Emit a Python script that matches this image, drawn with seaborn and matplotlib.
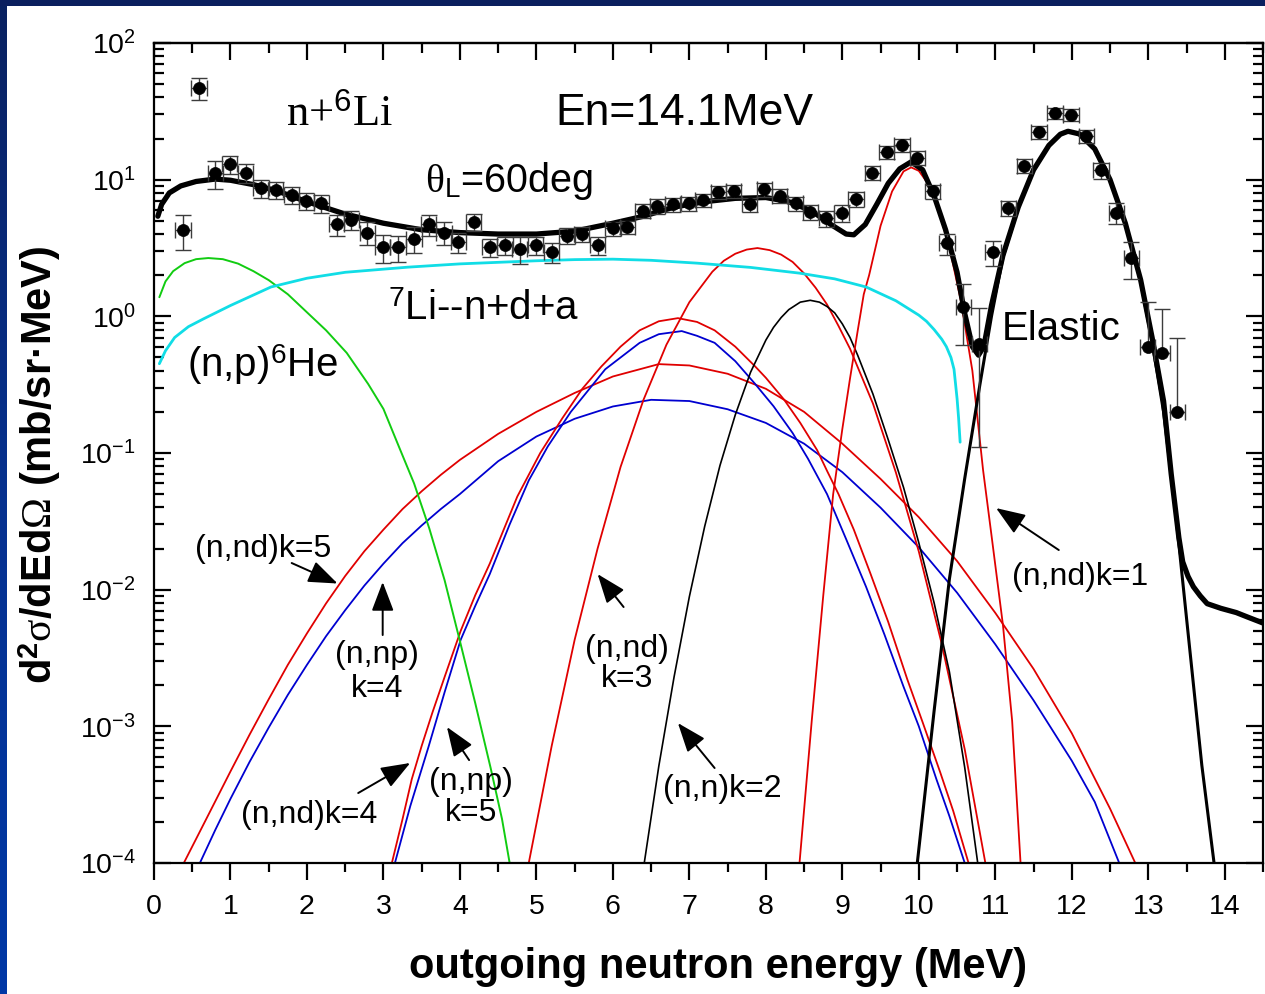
import numpy as np
import pandas as pd
import matplotlib
matplotlib.use("Agg")
import matplotlib.pyplot as plt
from matplotlib.ticker import MultipleLocator, LogLocator, NullFormatter, FixedLocator
from matplotlib.colors import LinearSegmentedColormap
from matplotlib.patches import Rectangle
import seaborn as sns

# ---------------------------------------------------------------- data
# measured double-differential cross section, n + 6Li, En = 14.1 MeV, 60 deg
exp_energy = [0.38, 0.59, 0.80, 0.99, 1.20, 1.40, 1.59, 1.80, 1.99, 2.19,
              2.39, 2.58, 2.79, 2.99, 3.19, 3.40, 3.59, 3.79, 3.98, 4.18,
              4.39, 4.59, 4.78, 4.99, 5.20, 5.40, 5.59, 5.80, 6.00, 6.19,
              6.39, 6.58, 6.78, 6.99, 7.18, 7.38, 7.58, 7.79, 7.98, 8.18,
              8.39, 8.58, 8.79, 8.99, 9.18, 9.39, 9.58, 9.78, 9.98, 10.18,
              10.37, 10.58, 10.79, 10.97, 11.17, 11.38, 11.57, 11.78, 11.99, 12.19,
              12.38, 12.58, 12.78, 12.99, 13.18, 13.38]
exp_value = [4.27, 46.5, 11.2, 13.0, 11.2, 8.7, 8.4, 7.7, 7.0, 6.7,
             4.7, 5.1, 4.1, 3.2, 3.2, 3.7, 4.7, 4.1, 3.5, 4.9,
             3.2, 3.3, 3.1, 3.3, 2.95, 3.9, 4.0, 3.3, 4.4, 4.5,
             5.9, 6.4, 6.6, 6.7, 7.1, 8.1, 8.3, 6.6, 8.5, 7.6,
             6.7, 5.8, 5.2, 5.7, 7.2, 11.2, 15.9, 17.9, 14.4, 8.2,
             3.43, 1.17, 0.63, 2.95, 6.2, 12.6, 22.2, 30.6, 29.8, 20.8,
             11.7, 5.7, 2.67, 0.60, 0.54, 0.20]
exp_error = [1.2, 8.5, 2.6, 2.0, 1.8, 1.3, 1.2, 1.1, 1.0, 1.0,
             0.8, 0.8, 0.8, 0.75, 0.7, 0.8, 0.8, 0.8, 0.6, 0.7,
             0.5, 0.5, 0.7, 0.5, 0.5, 0.5, 0.5, 0.5, 0.5, 0.5,
             0.7, 0.8, 0.8, 0.8, 0.8, 0.9, 0.9, 0.8, 1.0, 0.9,
             0.8, 0.7, 0.7, 0.8, 0.9, 1.3, 1.8, 2.0, 1.7, 1.0,
             0.6, 0.55, 0.52, 0.6, 0.8, 1.5, 2.5, 3.0, 3.0, 2.3,
             1.6, 1.0, 0.8, 0.67, 0.59, 0.50]
exp_energy_halfwidth = 0.1

# calculated spectra
total_E = [0.05, 0.1, 0.2, 0.35, 0.55, 0.8, 1.0, 1.3, 1.6, 2.0, 2.5, 3.0, 3.5,
           4.0, 4.5, 5.0, 5.5, 6.0, 6.4, 6.8, 7.2, 7.6, 8.0, 8.3, 8.6, 8.85,
           9.05, 9.15, 9.3, 9.45, 9.6, 9.75, 9.9, 10.05, 10.2, 10.35, 10.5,
           10.6, 10.7, 10.78, 10.85, 10.95, 11.1, 11.3, 11.5, 11.7, 11.85,
           11.95, 12.1, 12.3, 12.5, 12.7, 12.9, 13.05, 13.2, 13.3, 13.4, 13.45,
           13.52, 13.59, 13.68, 13.77, 13.95, 14.15, 14.3, 14.5]
total_v = [5.4, 6.6, 8.0, 9.0, 9.7, 10.1, 9.9, 9.2, 8.3, 6.9, 5.6, 4.8, 4.3,
           4.1, 4.0, 4.0, 4.2, 4.8, 5.4, 6.3, 6.9, 7.3, 7.4, 6.9, 5.9, 4.7,
           4.0, 3.95, 4.7, 6.6, 9.4, 12.0, 13.5, 11.8, 7.6, 4.3, 2.1,
           1.05, 0.6, 0.52, 0.6, 1.2, 2.8, 6.3, 11.8, 17.8, 21.5,
           22.6, 21.6, 16.8, 10.0, 4.8, 1.85, 0.7, 0.24, 0.07, 0.024, 0.016,
           0.0125, 0.0105, 0.0090, 0.0079, 0.0073, 0.0068, 0.0063, 0.0057]

elastic_E = [9.98, 10.2, 10.4, 10.6, 10.8, 10.95, 11.1, 11.3, 11.5, 11.7, 11.85,
             11.95, 12.1, 12.3, 12.5, 12.7, 12.9, 13.05, 13.2, 13.35, 13.5,
             13.7, 13.86]
elastic_v = [1.0e-4, 1.3e-3, 1.2e-2, 6.5e-2, 0.32, 1.0, 2.7, 6.2, 11.7, 17.7,
             21.4, 22.5, 21.5, 16.7, 9.9, 4.75, 1.8, 0.65, 0.2, 0.04, 6.2e-3,
             5.2e-4, 1.0e-4]

nd_k1_E = [8.44, 8.6, 8.75, 8.88, 9.0, 9.1, 9.2, 9.28, 9.35, 9.5, 9.65, 9.8,
           9.9, 10.0, 10.1, 10.25, 10.4, 10.55, 10.7, 10.84, 10.95, 11.1,
           11.22, 11.33]
nd_k1_v = [1e-4, 1.1e-3, 9e-3, 5e-2, 0.15, 0.35, 0.78, 1.45, 2.0, 4.6, 8.2,
           11.5, 12.3, 11.6, 9.7, 6.2, 3.2, 1.3, 0.4, 0.075, 0.025, 5.5e-3,
           1.1e-3, 1e-4]

nn_k2_E = [6.41, 6.6, 6.8, 7.0, 7.2, 7.4, 7.6, 7.8, 8.0, 8.1, 8.2, 8.3, 8.45,
           8.58, 8.7, 8.8, 8.9, 9.0, 9.1, 9.2, 9.4, 9.6, 9.8, 10.0, 10.2,
           10.4, 10.6, 10.77]
nn_k2_v = [1e-4, 5.1e-4, 2.3e-3, 8.9e-3, 0.029, 0.081, 0.19, 0.39, 0.67, 0.83,
           0.98, 1.12, 1.27, 1.31, 1.27, 1.18, 1.06, 0.88, 0.7, 0.52, 0.27,
           0.125, 0.056, 0.022, 8e-3, 2.5e-3, 5e-4, 1e-4]

nd_k3_E = [4.9, 5.2, 5.5, 5.8, 6.1, 6.4, 6.7, 7.0, 7.3, 7.45, 7.6, 7.75, 7.89,
           8.05, 8.2, 8.35, 8.5, 8.65, 8.8, 8.95, 9.1, 9.4, 9.7, 10.0, 10.3,
           10.6, 10.87]
nd_k3_v = [1e-4, 7.2e-4, 4.3e-3, 0.02, 0.079, 0.245, 0.62, 1.27, 2.12, 2.55,
           2.87, 3.08, 3.16, 3.05, 2.83, 2.5, 2.06, 1.62, 1.22, 0.85, 0.58,
           0.23, 0.072, 0.019, 4e-3, 6.8e-4, 1e-4]

nd_k4_E = [3.11, 3.25, 3.37, 3.5, 3.64, 3.8, 4.01, 4.2, 4.39, 4.6, 4.75, 5.05,
           5.34, 5.6, 5.85, 6.1, 6.35, 6.6, 6.85, 7.1, 7.33, 7.6, 7.86, 8.0,
           8.24, 8.45, 8.67, 8.8, 8.95, 9.15, 9.37, 9.6, 9.85, 10.05, 10.28,
           10.45, 10.65]
nd_k4_v = [1e-4, 2.1e-4, 4.1e-4, 7.2e-4, 1.26e-3, 2.3e-3, 5e-3, 9.1e-3,
           1.55e-2, 3.0e-2, 4.8e-2, 0.1, 0.18, 0.295, 0.43, 0.6, 0.79, 0.92,
           0.97, 0.91, 0.79, 0.6, 0.43, 0.355, 0.245, 0.166, 0.105, 0.074,
           0.05, 0.0275, 1.3e-2, 5.8e-3, 2.2e-3, 1.07e-3, 4.6e-4, 2.4e-4, 1e-4]

np_k5_E = [3.15, 3.35, 3.59, 3.8, 4.01, 4.2, 4.39, 4.65, 4.9, 5.15, 5.45,
           5.9, 6.35, 6.6, 6.9, 7.1, 7.33, 7.6, 7.86, 8.1, 8.35, 8.55, 8.8,
           9.05, 9.31, 9.55, 9.8, 10.0, 10.23, 10.4, 10.6]
np_k5_v = [1e-4, 2.6e-4, 7.1e-4, 1.78e-3, 4.3e-3, 7.6e-3, 1.3e-2, 3.0e-2,
           6.3e-2, 0.112, 0.2, 0.41, 0.64, 0.74, 0.78, 0.72, 0.64, 0.47,
           0.32, 0.22, 0.14, 0.091, 0.05, 0.0234, 1.05e-2, 4.7e-3, 1.95e-3,
           1e-3, 4.1e-4, 2.2e-4, 1e-4]

nd_k5_E = [0.39, 0.6, 0.8, 1.0, 1.25, 1.5, 1.75, 2.0, 2.25, 2.5, 2.75, 3.0,
           3.25, 3.5, 3.75, 4.0, 4.5, 5.0, 5.5, 6.0, 6.6, 7.0, 7.5, 8.0, 8.5,
           9.0, 9.5, 10.0, 10.5, 11.0, 11.5, 12.0, 12.5, 12.83]
nd_k5_v = [1e-4, 1.7e-4, 2.82e-4, 4.68e-4, 8.7e-4, 1.58e-3, 2.82e-3, 4.79e-3,
           7.94e-3, 0.0126, 0.0191, 0.0275, 0.0389, 0.0525, 0.0692, 0.0891,
           0.138, 0.2, 0.275, 0.363, 0.447, 0.437, 0.38, 0.295, 0.2, 0.117,
           0.0646, 0.0339, 0.0162, 6.76e-3, 2.63e-3, 8.9e-4, 2.5e-4, 1e-4]

np_k4_E = [0.6, 0.8, 1.0, 1.25, 1.5, 1.75, 2.0, 2.25, 2.5, 2.75, 3.0, 3.25,
           3.5, 3.75, 4.0, 4.5, 5.0, 5.5, 6.0, 6.5, 7.0, 7.5, 8.0, 8.5, 9.0,
           9.5, 10.0, 10.5, 11.0, 11.5, 12.0, 12.3, 12.62]
np_k4_v = [1e-4, 1.74e-4, 2.95e-4, 5.5e-4, 9.8e-4, 1.7e-3, 2.82e-3, 4.57e-3,
           7.08e-3, 0.0107, 0.0155, 0.0219, 0.0295, 0.0389, 0.0501, 0.0871,
           0.132, 0.178, 0.219, 0.245, 0.24, 0.209, 0.166, 0.117, 0.0724,
           0.0398, 0.0204, 9.5e-3, 3.98e-3, 1.55e-3, 5.6e-4, 2.8e-4, 1e-4]

np_he6_E = [0.07, 0.15, 0.25, 0.4, 0.55, 0.71, 0.9, 1.1, 1.3, 1.5, 1.75, 2.0,
            2.25, 2.52, 2.8, 3.0, 3.2, 3.4, 3.6, 3.8, 4.0, 4.2, 4.4, 4.55, 4.65]
np_he6_v = [1.38, 1.8, 2.14, 2.45, 2.62, 2.67, 2.62, 2.43, 2.14, 1.84, 1.45,
            1.07, 0.79, 0.54, 0.32, 0.21, 0.112, 0.060, 0.028, 0.0117, 4.2e-3,
            1.48e-3, 5e-4, 2.1e-4, 1e-4]

li7_E = [0.07, 0.15, 0.27, 0.45, 0.65, 1.0, 1.53, 2.0, 2.5, 3.32, 4.0, 5.0,
         5.5, 6.0, 6.5, 7.1, 7.8, 8.44, 8.9, 9.31, 9.7, 10.0, 10.1, 10.2,
         10.3, 10.36, 10.42, 10.46, 10.5, 10.52, 10.54]
li7_v = [0.45, 0.56, 0.70, 0.84, 0.96, 1.2, 1.64, 1.9, 2.1, 2.29, 2.42, 2.55,
         2.6, 2.62, 2.57, 2.45, 2.28, 2.07, 1.88, 1.64, 1.3, 1.02, 0.92, 0.8,
         0.68, 0.6, 0.5, 0.41, 0.25, 0.18, 0.12]

energy_ticks = list(range(0, 15))
decade_ticks = [1e-4, 1e-3, 1e-2, 1e-1, 1e0, 1e1, 1e2]

# ---------------------------------------------------------------- style
sns.set_theme(style="ticks")
plt.rcParams.update({
    "font.family": ["Liberation Sans", "DejaVu Sans"],
    "mathtext.fontset": "custom",
    "mathtext.rm": "Liberation Serif",
    "mathtext.it": "Liberation Serif:italic",
    "mathtext.bf": "Liberation Sans:bold",
    "mathtext.sf": "Liberation Sans",
    "axes.unicode_minus": False,
    "axes.linewidth": 1.6,
    "axes.edgecolor": "black",
    "text.color": "black",
    "axes.labelcolor": "black",
    "xtick.color": "black",
    "ytick.color": "black",
})

W, H = 1265, 994
fig = plt.figure(figsize=(W / 100, H / 100), dpi=100, facecolor="white")

# blue slide frame (top band and left gradient strip)
fig.patches.append(Rectangle((0, 1 - 6 / H), 1, 6 / H, transform=fig.transFigure,
                             facecolor="#0b1f5e", edgecolor="none", zorder=5))
strip = fig.add_axes([0, 0, 7 / W, 1])
frame_cmap = LinearSegmentedColormap.from_list("frame", ["#0a2160", "#06318f", "#0038a6"])
strip.imshow(np.linspace(0, 1, 256)[:, None], aspect="auto", cmap=frame_cmap)
strip.set_axis_off()

ax = fig.add_axes([154 / W, 1 - 863 / H, (1263 - 154) / W, (863 - 43) / H])
ax.set_yscale("log")
ax.set_xlim(0, 14.5)
ax.set_ylim(1e-4, 1e2)

red, blue = "#e00000", "#0000d0"
components = [
    (np_k4_E, np_k4_v, blue, 1.3),
    (nd_k5_E, nd_k5_v, red, 1.3),
    (np_k5_E, np_k5_v, blue, 1.3),
    (nd_k4_E, nd_k4_v, red, 1.3),
    (nd_k3_E, nd_k3_v, red, 1.3),
    (nn_k2_E, nn_k2_v, "black", 1.2),
    (nd_k1_E, nd_k1_v, red, 1.3),
    (np_he6_E, np_he6_v, "#11cc11", 1.4),
    (li7_E, li7_v, "#11dde6", 2.0),
    (elastic_E, elastic_v, "black", 2.2),
]
for e, v, c, lw in components:
    sns.lineplot(x=e, y=v, ax=ax, color=c, lw=lw, estimator=None, sort=False,
                 zorder=2)
sns.lineplot(x=total_E, y=total_v, ax=ax, color="black", lw=3.8,
             estimator=None, sort=False, zorder=3)

# experimental points with energy-bin and statistical error bars
vals = np.array(exp_value)
errs = np.array(exp_error)
lower = np.where(errs < vals, errs, 0.0)
ax.errorbar(exp_energy, exp_value, yerr=[lower, errs], xerr=exp_energy_halfwidth,
            fmt="none", ecolor="#3c3c3c", elinewidth=1.0, capsize=5.5,
            capthick=1.0, zorder=4)
sns.scatterplot(x=exp_energy, y=exp_value, ax=ax, color="black", s=75,
                edgecolor="black", linewidth=0.5, zorder=5)

# ---------------------------------------------------------------- axes
ax.xaxis.set_major_locator(FixedLocator(energy_ticks))
ax.xaxis.set_minor_locator(MultipleLocator(0.5))
ax.yaxis.set_major_locator(FixedLocator(decade_ticks))
ax.yaxis.set_minor_locator(LogLocator(base=10, subs=np.arange(2, 10), numticks=20))
ax.yaxis.set_minor_formatter(NullFormatter())
ax.tick_params(axis="x", which="major", direction="out", length=12, width=1.6,
               labelsize=20.5, pad=10, top=False)
ax.tick_params(axis="x", which="minor", direction="out", length=6.5, width=1.6,
               top=False)
ax.tick_params(axis="y", which="major", direction="in", length=12, width=1.6,
               labelsize=20.5, pad=13, left=True, right=True)
ax.tick_params(axis="y", which="minor", direction="in", length=7, width=1.6,
               left=True, right=True)
for s in ax.spines.values():
    s.set_linewidth(1.6)

top = ax.secondary_xaxis("top")
top.xaxis.set_major_locator(FixedLocator(energy_ticks))
top.xaxis.set_minor_locator(MultipleLocator(0.5))
top.tick_params(axis="x", which="major", direction="in", length=12, width=1.6,
                labeltop=False)
top.tick_params(axis="x", which="minor", direction="in", length=7, width=1.6)
top.spines["top"].set_linewidth(1.6)

ax.set_xlabel("outgoing neutron energy (MeV)", fontsize=30, fontweight="bold")
ax.xaxis.label.set_verticalalignment("center")
ax.xaxis.set_label_coords(0.5086, -0.127)
ax.set_ylabel(r"d$^{\mathbf{2}}\mathrm{\sigma}$/dEd$\mathrm{\Omega}$ (mb/sr·MeV)",
              fontsize=30, fontweight="bold")
ax.yaxis.label.set_verticalalignment("center")
ax.yaxis.set_label_coords(-0.1028, 0.4854)

# ---------------------------------------------------------------- labels
ax.text(1.72, 25, r"n+$^{\mathsf{6}}$Li", family="Liberation Serif", fontsize=32,
        va="baseline")
ax.text(5.25, 25, "En=14.1MeV", fontsize=32, va="baseline")
ax.text(3.54, 8.1, r"$\mathrm{\theta}_{\mathsf{L}}$=60deg", fontsize=28.5, va="baseline")
ax.text(3.06, 0.94, r"$^{\mathsf{7}}$Li--n+d+a", fontsize=29, va="baseline")
ax.text(0.43, 0.359, r"(n,p)$^{\mathsf{6}}$He", fontsize=29, va="baseline")
ax.text(11.09, 0.67, "Elastic", fontsize=29, va="baseline")

small = 23
ax.text(0.54, 10 ** -1.76, "(n,nd)k=5", fontsize=small, va="baseline")
ax.text(2.92, 10 ** -2.537, "(n,np)", fontsize=small, va="baseline", ha="center")
ax.text(2.92, 10 ** -2.786, "k=4", fontsize=small, va="baseline", ha="center")
ax.text(1.14, 10 ** -3.707, "(n,nd)k=4", fontsize=small, va="baseline")
ax.text(4.15, 10 ** -3.466, "(n,np)", fontsize=small, va="baseline", ha="center")
ax.text(4.15, 10 ** -3.693, "k=5", fontsize=small, va="baseline", ha="center")
ax.text(6.18, 10 ** -2.493, "(n,nd)", fontsize=small, va="baseline", ha="center")
ax.text(6.18, 10 ** -2.713, "k=3", fontsize=small, va="baseline", ha="center")
ax.text(6.66, 10 ** -3.517, "(n,n)k=2", fontsize=small, va="baseline")
ax.text(11.22, 10 ** -1.966, "(n,nd)k=1", fontsize=small, va="baseline")

arrows = [
    ((1.80, 10 ** -1.805), (2.40, 10 ** -1.955)),
    ((2.99, 10 ** -2.332), (2.99, 10 ** -1.944)),
    ((2.67, 10 ** -3.488), (3.35, 10 ** -3.268)),
    ((4.12, 10 ** -3.247), (3.83, 10 ** -3.005)),
    ((6.14, 10 ** -2.127), (5.80, 10 ** -1.886)),
    ((7.33, 10 ** -3.305), (6.85, 10 ** -2.976)),
    ((11.83, 10 ** -1.71), (11.01, 10 ** -1.403)),
]
for tail, head in arrows:
    ax.annotate("", xy=head, xytext=tail,
                arrowprops=dict(arrowstyle="-|>,head_length=1.0,head_width=0.38",
                                color="black", lw=1.4, shrinkA=0, shrinkB=0,
                                mutation_scale=18))

fig.savefig("out.png", dpi=100, facecolor="white")
